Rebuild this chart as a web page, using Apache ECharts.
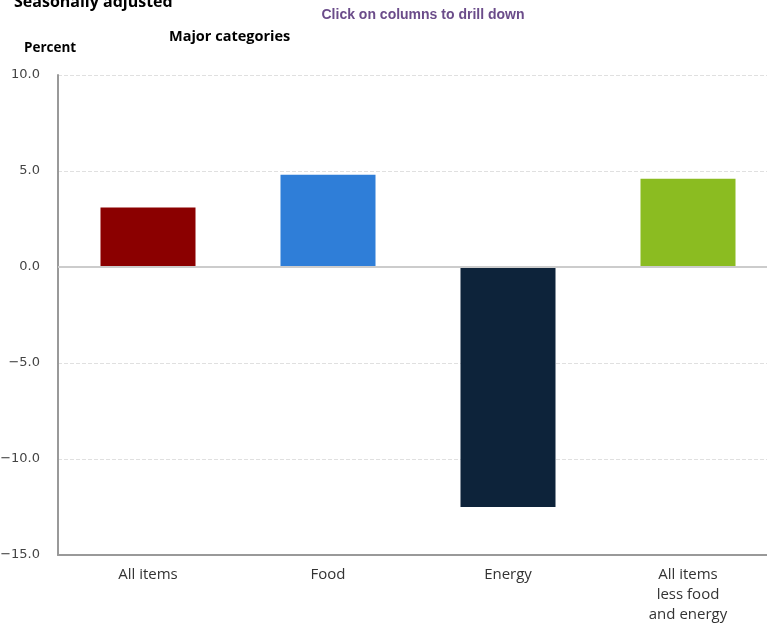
<!DOCTYPE html>
<html><head><meta charset="utf-8">
<script src="https://cdn.jsdelivr.net/npm/echarts@6/dist/echarts.min.js"></script>
<style>html,body{margin:0;padding:0;background:#fff}#c{width:767px;height:624px}</style>
</head><body><div id="c"></div>
<script>
var categories = ["All items", "Food", "Energy", "All items\nless food\nand energy"];
var values = [3.1, 4.8, -12.5, 4.6];
var colors = ["#8b0000", "#2f7ed8", "#0d233a", "#8bbc21"];
var yTicks = [-15, -10, -5, 0, 5, 10];

var chart = echarts.init(document.getElementById('c'));
chart.setOption({
  animation: false,
  backgroundColor: '#fff',
  title: [
    {text: 'Seasonally adjusted', left: 9, top: -11, textStyle: {fontFamily: 'Open Sans', fontWeight: 'bold', fontSize: 16, color: '#000'}},
    {text: 'Click on columns to drill down', left: 418, textAlign: 'center', top: 3, textStyle: {fontFamily: 'Liberation Sans', fontWeight: 'bold', fontSize: 14, color: '#6b4c8a'}},
    {text: 'Major categories', left: 164, top: 24, textStyle: {fontFamily: 'Open Sans', fontWeight: 'bold', fontSize: 14.5, color: '#000'}},
    {text: 'Percent', left: 19, top: 36, textStyle: {fontFamily: 'Open Sans', fontWeight: 'bold', fontSize: 13.5, color: '#000'}}
  ],
  grid: {left: 58, top: 75, width: 720, height: 480, containLabel: false, outerBoundsMode: 'none'},
  xAxis: {
    type: 'category', data: categories,
    axisLine: {onZero: false, lineStyle: {color: '#999', width: 2}},
    axisTick: {show: false},
    axisLabel: {fontFamily: 'Open Sans', fontSize: 15, color: '#333', lineHeight: 20, margin: 10}
  },
  yAxis: {
    type: 'value', min: -15, max: 10, interval: 5,
    axisLine: {show: true, lineStyle: {color: '#999', width: 2}},
    axisTick: {show: false},
    splitLine: {lineStyle: {color: '#e0e0e0', type: 'dashed'}},
    axisLabel: {fontFamily: 'DejaVu Sans', fontSize: 13, color: '#444', margin: 18,
      formatter: function (v) { return (v < 0 ? '\u2212' : '') + Math.abs(v).toFixed(1); }}
  },
  series: [{
    type: 'bar', barWidth: 95,
    data: values.map(function (v, i) { return {value: v, itemStyle: {color: colors[i]}}; }),
    markLine: {silent: true, symbol: 'none', label: {show: false},
      lineStyle: {color: '#ccc', type: 'solid', width: 2},
      data: [{yAxis: 0}]},
    z: 3
  }]
});
</script></body></html>
